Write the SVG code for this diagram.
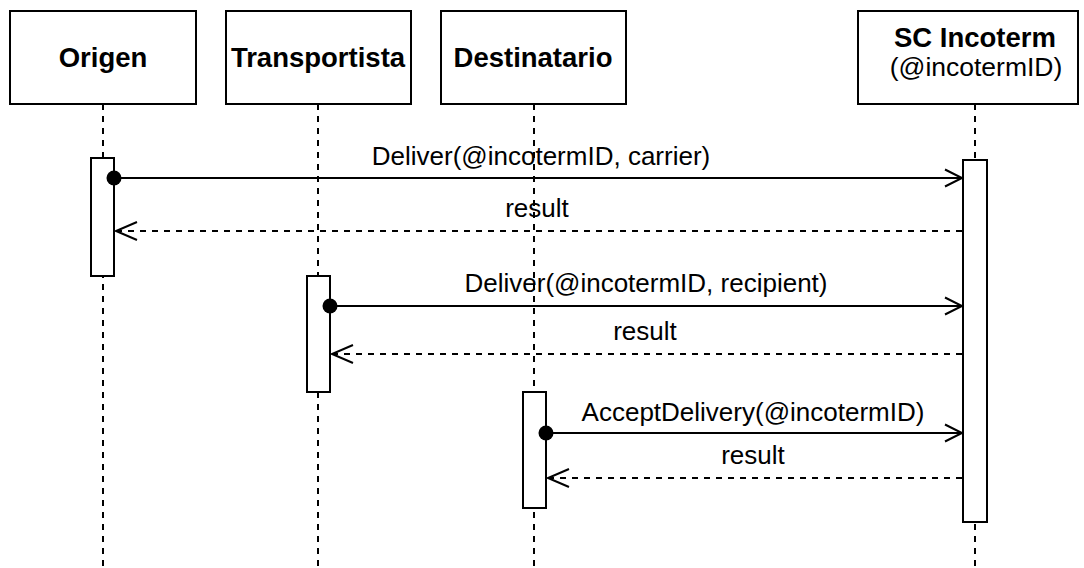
<svg xmlns="http://www.w3.org/2000/svg" width="1084" height="568" viewBox="0 0 1084 568">
  <style>
    .box { fill: #ffffff; stroke: #000000; stroke-width: 2; }
    .bar { fill: #ffffff; stroke: #000000; stroke-width: 2; }
    .life { stroke: #000000; stroke-width: 2; stroke-dasharray: 6 6; fill: none; }
    .msg { stroke: #000000; stroke-width: 2; fill: none; }
    .ret { stroke: #000000; stroke-width: 2; stroke-dasharray: 6 6; fill: none; }
    .head { stroke: #000000; stroke-width: 2; fill: none; }
    .title { font-family: "Liberation Sans", Arial, sans-serif; font-weight: bold; font-size: 27.5px; fill: #000000; text-anchor: middle; }
    .sub { font-family: "Liberation Sans", Arial, sans-serif; font-size: 26.5px; fill: #000000; text-anchor: middle; }
    .label { font-family: "Liberation Sans", Arial, sans-serif; font-size: 26px; fill: #000000; text-anchor: middle; }
  </style>
  <rect width="1084" height="568" fill="#ffffff"/>

  <!-- lifelines -->
  <g id="lifelines">
    <line class="life" x1="103" y1="104" x2="103" y2="568"/>
    <line class="life" x1="318" y1="104" x2="318" y2="568"/>
    <line class="life" x1="534" y1="104" x2="534" y2="568"/>
    <line class="life" x1="975" y1="104" x2="975" y2="568"/>
  </g>

  <!-- participants -->
  <g id="origen">
    <rect class="box" x="10" y="11" width="186" height="93"/>
    <text class="title" x="103" y="67">Origen</text>
    <rect class="bar" x="91" y="158" width="23" height="118"/>
  </g>
  <g id="transportista">
    <rect class="box" x="226" y="11" width="185" height="93"/>
    <text class="title" x="318" y="67">Transportista</text>
    <rect class="bar" x="307" y="276" width="23" height="116"/>
  </g>
  <g id="destinatario">
    <rect class="box" x="441" y="11" width="185" height="93"/>
    <text class="title" x="533" y="67">Destinatario</text>
    <rect class="bar" x="523" y="392" width="23" height="116"/>
  </g>
  <g id="sc-incoterm">
    <rect class="box" x="858" y="11" width="220" height="93"/>
    <text class="title" x="975" y="47">SC Incoterm</text>
    <text class="sub" x="976" y="76">(@incotermID)</text>
    <rect class="bar" x="963" y="160" width="24" height="362"/>
  </g>

  <!-- messages -->
  <g id="connectors">
    <!-- Origen -> SC Incoterm -->
    <line class="msg" x1="114" y1="178" x2="962" y2="178"/>
    <circle cx="114" cy="178" r="7.5" fill="#000000"/>
    <polyline class="head" points="945,169.5 962,178 945,186.5"/>
    <text class="label" x="541" y="165">Deliver(@incotermID, carrier)</text>

    <line class="ret" x1="962" y1="231" x2="116" y2="231"/>
    <polyline class="head" points="137,222 116,231 137,240"/>
    <text class="label" x="537" y="217">result</text>

    <!-- Transportista -> SC Incoterm -->
    <line class="msg" x1="330" y1="306" x2="962" y2="306"/>
    <circle cx="330" cy="306" r="7.5" fill="#000000"/>
    <polyline class="head" points="945,297.5 962,306 945,314.5"/>
    <text class="label" x="646" y="292">Deliver(@incotermID, recipient)</text>

    <line class="ret" x1="962" y1="354" x2="332" y2="354"/>
    <polyline class="head" points="353,345 332,354 353,363"/>
    <text class="label" x="645" y="340">result</text>

    <!-- Destinatario -> SC Incoterm -->
    <line class="msg" x1="546" y1="433" x2="962" y2="433"/>
    <circle cx="546" cy="433" r="7.5" fill="#000000"/>
    <polyline class="head" points="945,424.5 962,433 945,441.5"/>
    <text class="label" x="753" y="421">AcceptDelivery(@incotermID)</text>

    <line class="ret" x1="962" y1="478" x2="548" y2="478"/>
    <polyline class="head" points="569,469 548,478 569,487"/>
    <text class="label" x="753" y="464">result</text>
  </g>
</svg>
